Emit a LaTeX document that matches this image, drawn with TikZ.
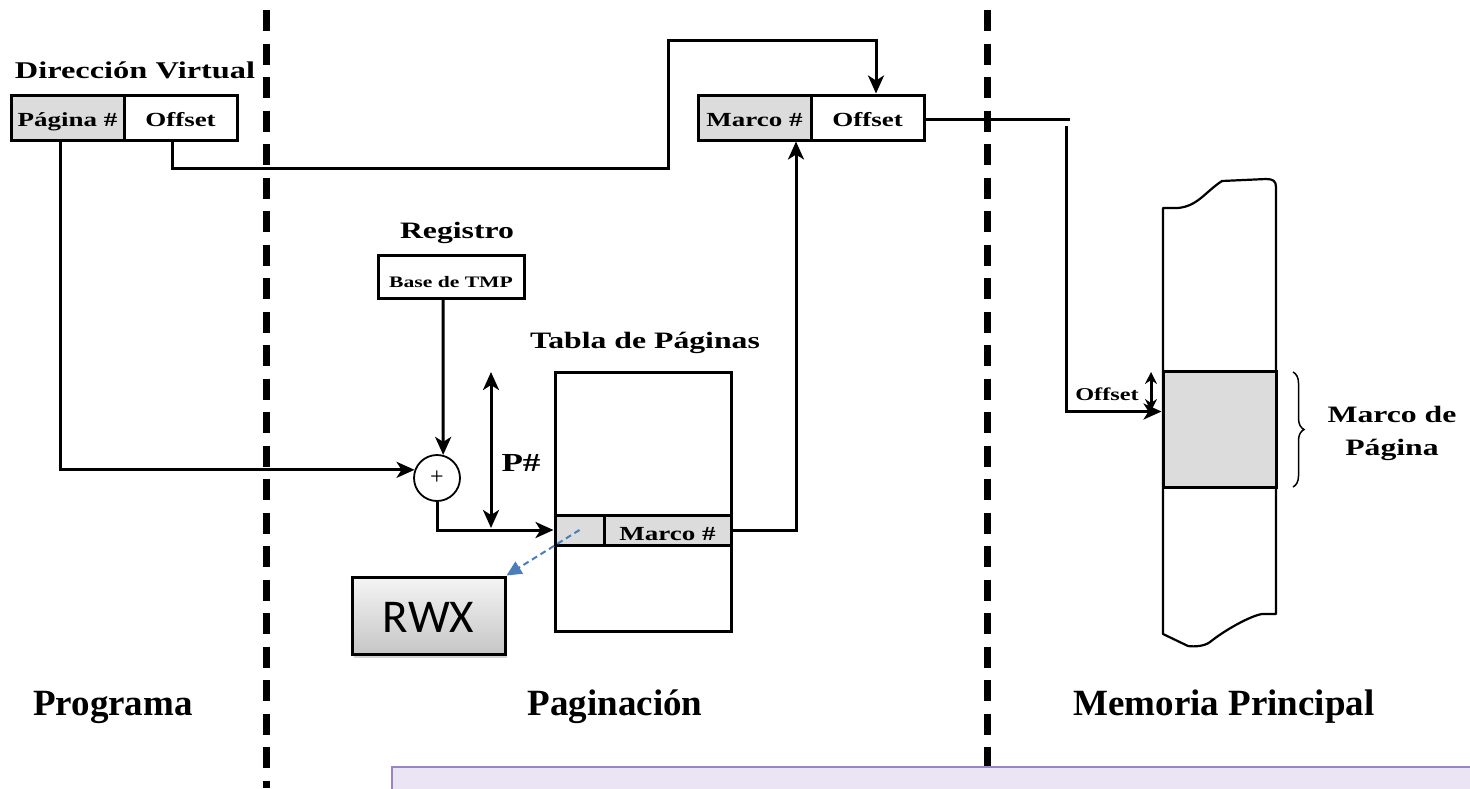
\documentclass[tikz,border=0pt]{standalone}
\usepackage{fontspec}
\setmainfont{Liberation Serif}
\newfontfamily\lblfont{Liberation Serif}[FakeStretch=1.35]
\newfontfamily\rwxfont{Carlito}
\usetikzlibrary{arrows.meta,shadows,decorations.pathreplacing,calc}

\definecolor{cellgray}{HTML}{DCDCDC}
\definecolor{linkblue}{HTML}{4A7EBB}
\definecolor{notefill}{HTML}{EBE4F5}
\definecolor{noteline}{HTML}{9A84C2}

\begin{document}
\begin{tikzpicture}[x=1pt,y=-1pt,
  >={Stealth[length=18pt,width=16pt,inset=5pt]},
  wire/.style={line width=3pt},
  separator/.style={line width=7pt, dash pattern=on 21pt off 12.5pt},
  heading/.style={font=\lblfont\bfseries\fontsize{23.5}{24}\selectfont, anchor=base, inner sep=0pt},
  region/.style={font=\bfseries\fontsize{37}{37}\selectfont, anchor=base, inner sep=0pt},
  cellbox/.style={draw, line width=3pt, inner sep=0pt, minimum height=45pt,
    minimum width=113pt, text height=18pt, text depth=0pt,
    font=\lblfont\bfseries\fontsize{20}{20}\selectfont},
  graycell/.style={cellbox, fill=cellgray}
]
\useasboundingbox (0,0) rectangle (1470,788);

% region separators
\draw[separator] (266,10) -- (266,788);
\draw[separator] (987,-23.5) -- (987,766);

% virtual address
\node[heading, font=\lblfont\bfseries\fontsize{24}{24}\selectfont] (dvlabel) at (135,78) {Dirección Virtual};
\node[graycell] (pag) at (67.5,117.5) {Página \#};
\node[cellbox] (off1) at (180.5,117.5) {Offset};

% physical address
\node[graycell] (marco) at (754.5,117.5) {Marco \#};
\node[cellbox] (off2) at (867.5,117.5) {Offset};

% page table base register
\node[heading] (reglabel) at (457,238) {Registro};
\node[cellbox, minimum width=146pt, minimum height=43pt, text height=21pt,
  font=\lblfont\bfseries\fontsize{16}{16}\selectfont] (reg) at (451,276.5) {Base de TMP};

% adder
\node[draw, circle, line width=1.8pt, minimum size=46pt, inner sep=0pt,
  font=\fontsize{24}{24}\selectfont] (sum) at (437,478) {+};

% page table
\node[heading] (tablabel) at (645,348) {Tabla de Páginas};
\node[draw, line width=3pt, minimum width=176pt, minimum height=259pt, inner sep=0pt] (table) at (643,501.5) {};
\node[graycell, minimum width=49pt, minimum height=30pt] (pcell) at (579.5,530) {};
\node[graycell, minimum width=127pt, minimum height=30pt, text height=20pt] (mcell) at (667.5,530) {Marco \#};

% page-number span
\coordinate (ptop) at (491,372);
\coordinate (pbot) at (491,528);
\draw[wire,<->] (ptop) -- (pbot);
\node[heading, font=\lblfont\bfseries\fontsize{26}{26}\selectfont] (plabel) at (521,471) {P\#};

% protection bits
\node[draw, line width=3pt, top color=gray!8, bottom color=gray!45,
  minimum width=153pt, minimum height=77pt, inner sep=0pt,
  text height=33pt, text depth=0pt,
  drop shadow={opacity=0.35, shadow xshift=2pt, shadow yshift=-4pt},
  font=\rwxfont\fontsize{47}{47}\selectfont] (rwx) at (428.5,615.5) {RWX\hspace{28pt}};
\draw[linkblue, line width=2pt, dash pattern=on 6pt off 4pt,
  -{Triangle[length=15pt,width=14pt]}] (pcell.center) -- (rwx.north east);

% main memory
\draw[line width=2.2pt, line join=round, fill=white]
  (1163,634) -- (1163,208) -- (1178,208)
  .. controls (1198,206) and (1205,192) .. (1222,181)
  -- (1266,179) .. controls (1273,179) and (1276,181) .. (1276,187)
  -- (1276,614) -- (1262,614)
  .. controls (1250,616) and (1225,630) .. (1210,642)
  .. controls (1205,646) and (1195,647) .. (1188,646) -- cycle;
\node[draw, line width=3pt, fill=cellgray, minimum width=113pt, minimum height=116pt, inner sep=0pt] (frame) at (1219.5,429) {};
\draw[line width=1.5pt, decorate, decoration={brace, amplitude=11pt}] (1293,372) -- (1293,487);
\node[heading] (mlabel1) at (1392,422) {Marco de};
\node[heading] (mlabel2) at (1392,455) {Página};
\node[heading, font=\lblfont\bfseries\fontsize{18}{18}\selectfont] (offlabel) at (1107,400) {Offset};
\coordinate (otop) at (1151,372);
\coordinate (obot) at (1151,411);
\draw[line width=3pt, <->, >={Stealth[length=12pt,width=12pt,inset=4pt]}] (otop) -- (obot);

% connectors
\coordinate (k1) at (668,168);
\coordinate (k2) at (668,40);
\coordinate (m0) at (1070,119);
\coordinate (m1) at (1066,126);
\coordinate (min) at ($(frame.north west)+(0,42)$);

\draw[wire,->] ([xshift=-7.5pt]pag.south) |- (sum.160);
\draw[wire,->] ([xshift=-8.5pt]off1.south) |- (k1) -- (k2) -| ([xshift=8.5pt]off2.north);
\draw[wire,->] ([xshift=-8pt]reg.south) -- (sum.75);
\draw[wire,->] (sum.south) |- (pcell.west);
\draw[wire,->] (mcell.east) -| ([xshift=41.5pt]marco.south);
\draw[wire] ([yshift=-1.5pt]off2.east) -- (m0);
\draw[wire,->] (m1) |- (min);

% region titles
\node[region] (prog) at (113,715) {Programa};
\node[region] (pagin) at (615,715) {Paginación};
\node[region] (mem) at (1224,715) {Memoria Principal};

% note panel
\node[draw=noteline, fill=notefill, line width=2pt, minimum width=1100pt, minimum height=40pt,
  anchor=north west, inner sep=0pt] (note) at (391,766) {};
\end{tikzpicture}
\end{document}
